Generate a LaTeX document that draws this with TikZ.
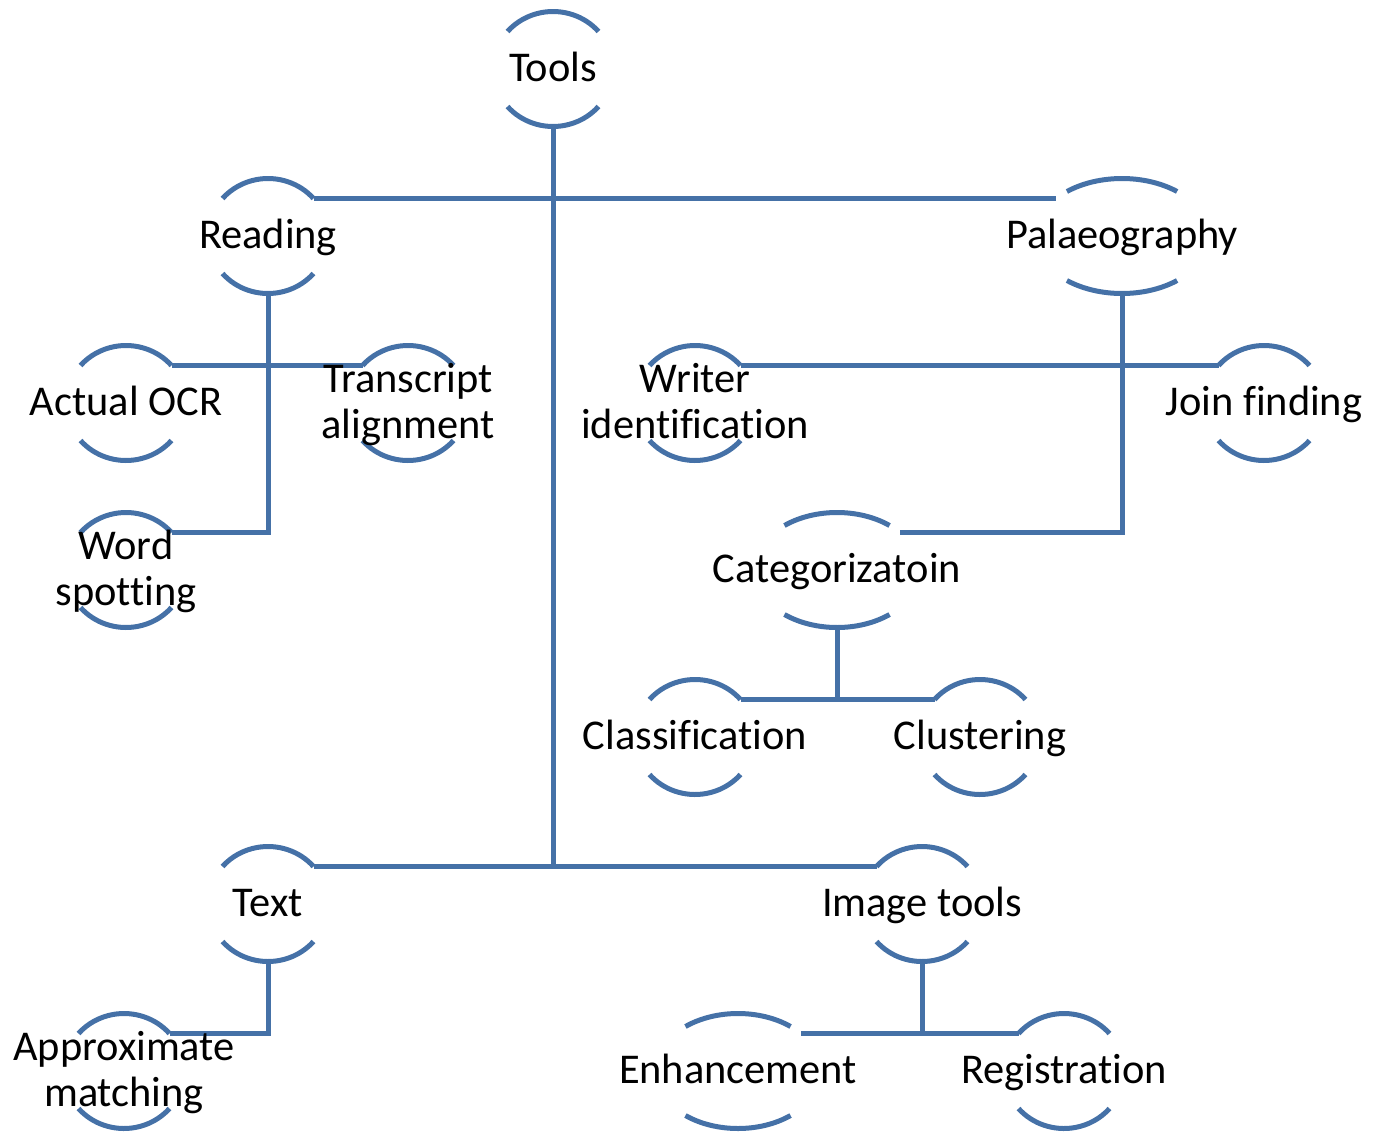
\documentclass[tikz,border=0pt]{standalone}
\usepackage{fontspec}
\setmainfont{Carlito}[Ligatures={NoCommon,NoContextual}]
\definecolor{linkblue}{RGB}{69,113,167}
% every text line gets the same height and depth
\newcommand\lnstrut{\rule[-10pt]{0pt}{45pt}}
% top and bottom rims of a node: #1 name, #2 horizontal radius, #3 rim start angle
\newcommand\rims[3]{%
  \draw[rim] ([shift={(#3:#2pt and 57.5pt)}]#1.center)
    arc[start angle=#3, end angle=180-#3, x radius=#2pt, y radius=57.5pt];
  \draw[rim] ([shift={(180+#3:#2pt and 57.5pt)}]#1.center)
    arc[start angle=180+#3, end angle=360-#3, x radius=#2pt, y radius=57.5pt];}
% attachment points of a node: left, right (at the rim level) and bottom
\newcommand\attach[2]{%
  \coordinate (#1-l) at ([shift={(-#2pt,37.5pt)}]#1.center);
  \coordinate (#1-r) at ([shift={(#2pt,37.5pt)}]#1.center);
  \coordinate (#1-b) at ([yshift=-57.5pt]#1.center);}
\pgfdeclarelayer{back}
\pgfsetlayers{back,main}
\begin{document}
\begin{tikzpicture}[x=1pt,y=1pt,
  lbl/.style={inner sep=0pt, outer sep=0pt, align=center,
              font=\fontsize{42.4}{46.5}\selectfont},
  rim/.style={draw=linkblue, line width=5pt},
  link/.style={draw=linkblue, line width=5pt}]
\useasboundingbox (0,0) rectangle (1373,-1135);

% labels
\node[lbl] (tools)      at (553,-69)   {\lnstrut Tools};
\node[lbl] (reading)    at (268,-236)  {\lnstrut Reading};
\node[lbl] (palaeo)     at (1122,-236) {\lnstrut Palaeography};
\node[lbl] (ocr)        at (126,-403)  {\lnstrut Actual OCR};
\node[lbl] (transcript) at (408,-403)  {\lnstrut Transcript\\\lnstrut alignment};
\node[lbl] (writer)     at (695,-403)  {\lnstrut Writer\\\lnstrut identification};
\node[lbl] (join)       at (1264,-403) {\lnstrut Join finding};
\node[lbl] (wordspot)   at (126,-570)  {\lnstrut Word\\\lnstrut spotting};
\node[lbl] (categ)      at (837,-570)  {\lnstrut Categorizatoin};
\node[lbl] (classif)    at (695,-737)  {\lnstrut Classification};
\node[lbl] (cluster)    at (980,-737)  {\lnstrut Clustering};
\node[lbl] (text)       at (268,-904)  {\lnstrut Text};
\node[lbl] (imgtools)   at (922,-904)  {\lnstrut Image tools};
\node[lbl] (approx)     at (124,-1071) {\lnstrut Approximate\\\lnstrut matching};
\node[lbl] (enh)        at (738,-1071) {\lnstrut Enhancement};
\node[lbl] (regist)     at (1064,-1071){\lnstrut Registration};

\foreach \n in {tools,reading,ocr,transcript,writer,join,wordspot,
                classif,cluster,text,imgtools,approx,regist}
  {\attach{\n}{45.5}}
\attach{palaeo}{66}
\attach{categ}{63}
\attach{enh}{63}

\begin{pgfonlayer}{back}
  % rims
  \foreach \n in {tools,reading,ocr,transcript,writer,join,wordspot,
                  classif,cluster,text,imgtools,approx,regist}
    {\rims{\n}{60}{40.7}}
  \rims{palaeo}{87}{50.7}
  \rims{categ}{83}{50.7}
  \rims{enh}{83}{50.7}

  % trunk and main branches
  \draw[link] (tools-b) -- (tools-b |- text-r);
  \draw[link] (reading-r) -- (palaeo-l);
  \draw[link] (text-r) -- (imgtools-l);

  % reading
  \draw[link] (reading-b) -- (reading-b |- wordspot-r) -- (wordspot-r);
  \draw[link] (ocr-r) -- (transcript-l);

  % palaeography
  \draw[link] (palaeo-b) -- (palaeo-b |- categ-r) -- (categ-r);
  \draw[link] (writer-r) -- (join-l);

  % categorization
  \draw[link] (categ-b) -- (categ-b |- classif-r);
  \draw[link] (classif-r) -- (cluster-l);

  % text
  \draw[link] (text-b) -- (text-b |- approx-r) -- (approx-r);

  % image tools
  \draw[link] (imgtools-b) -- (imgtools-b |- enh-r);
  \draw[link] (enh-r) -- (regist-l);
\end{pgfonlayer}
\end{tikzpicture}
\end{document}
